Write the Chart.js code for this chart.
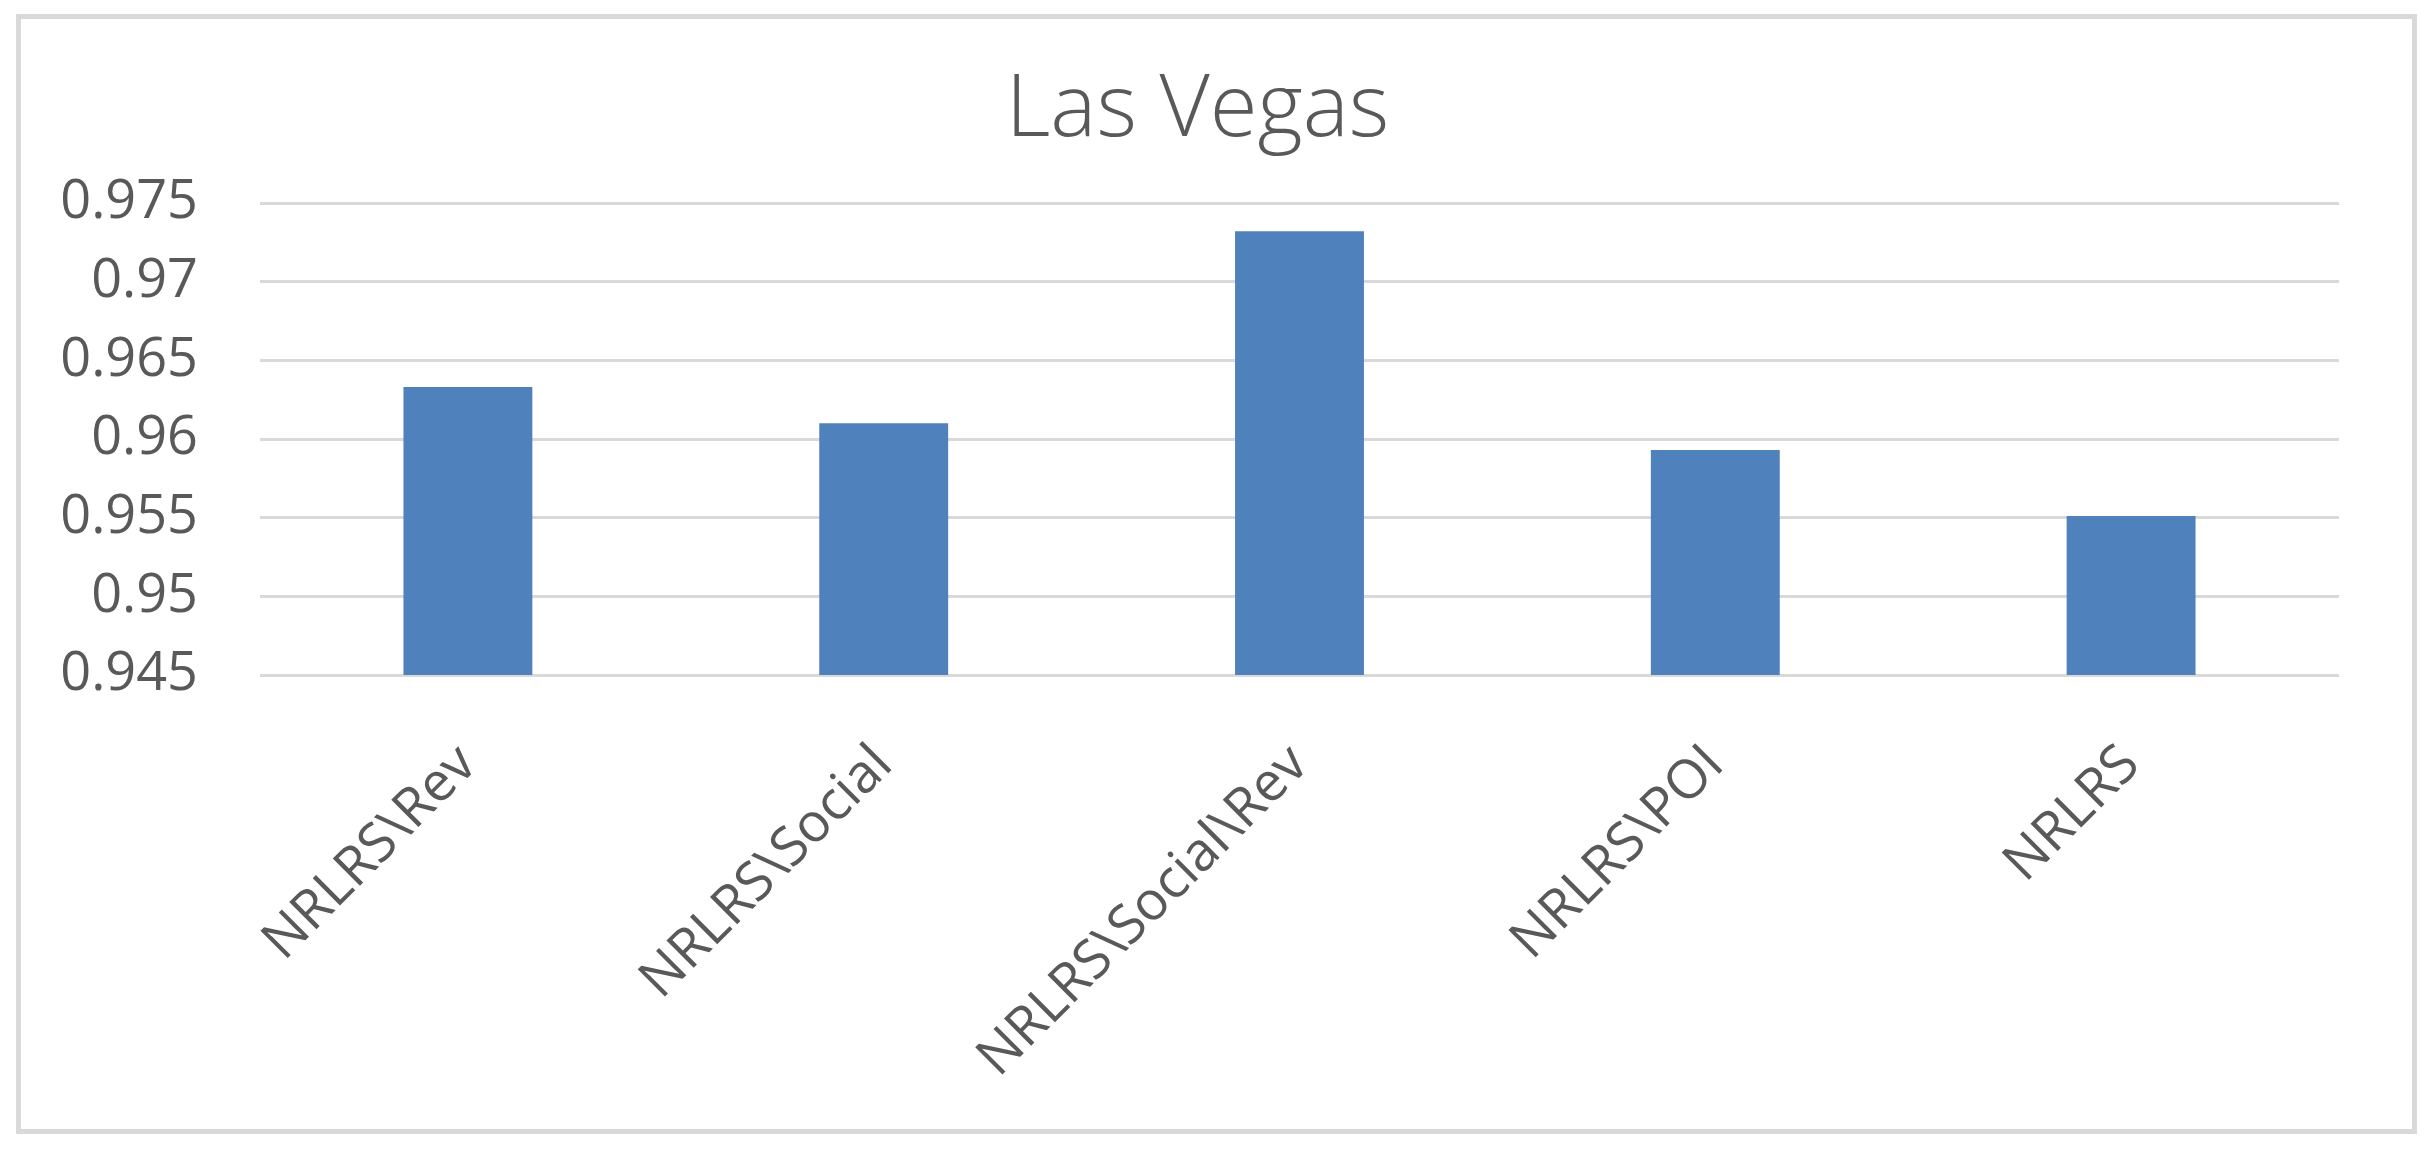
<!DOCTYPE html>
<html>
<head>
<meta charset="utf-8">
<script src="https://cdn.jsdelivr.net/npm/chart.js@4.4.1/dist/chart.umd.min.js"></script>
<style>
  html, body { margin: 0; padding: 0; background: #ffffff; }
  #wrap { position: absolute; left: 0; top: 0; width: 2433px; height: 1151px; }
  #frame { position: absolute; left: 16px; top: 14px; width: 2391px; height: 1110px;
           border: 5px solid #d9d9d9; pointer-events: none; }
  canvas { position: absolute; left: 0; top: 0; }
</style>
</head>
<body>
<div id="wrap">
  <canvas id="c" width="2433" height="1151"></canvas>
  <div id="frame"></div>
</div>
<script>
const chartTitle = "Las Vegas";
const categories = ["NRLRS\\Rev", "NRLRS\\Social", "NRLRS\\Social\\Rev", "NRLRS\\POI", "NRLRS"];
const values = [0.9633, 0.9610, 0.9732, 0.9593, 0.9551];
const yTickValues = [0.945, 0.95, 0.955, 0.96, 0.965, 0.97, 0.975];
const yTickLabels = ["0.945", "0.95", "0.955", "0.96", "0.965", "0.97", "0.975"];

const textColor = "#595959";
const gridColor = "#d9d9d9";
const barColor = "#4f81bd";
const fontFamily = "'Open Sans', 'DejaVu Sans', sans-serif";

new Chart(document.getElementById("c"), {
  type: "bar",
  data: {
    labels: categories,
    datasets: [{
      data: values,
      backgroundColor: barColor,
      borderWidth: 0,
      categoryPercentage: 1.0,
      barPercentage: 0.31
    }]
  },
  options: {
    responsive: false,
    animation: false,
    devicePixelRatio: 1,
    layout: { padding: { left: 56, right: 94, top: 0, bottom: 0 } },
    plugins: {
      legend: { display: false },
      tooltip: { enabled: false },
      title: {
        display: true,
        text: chartTitle,
        color: textColor,
        font: { family: fontFamily, size: 87, weight: 300, lineHeight: 1.2 },
        padding: { top: 59, bottom: 39.6 }
      }
    },
    scales: {
      x: {
        grid: { display: false, drawTicks: false },
        border: { display: false },
        ticks: {
          color: textColor,
          font: { family: fontFamily, size: 54 },
          maxRotation: 45,
          minRotation: 45,
          autoSkip: false,
          padding: 58
        },
        afterFit: (s) => { s.height = 476; }
      },
      y: {
        min: 0.945,
        max: 0.975,
        grid: { color: gridColor, lineWidth: 3, drawTicks: false },
        border: { display: false },
        afterBuildTicks: (s) => { s.ticks = yTickValues.map(v => ({ value: v })); },
        ticks: {
          color: textColor,
          font: { family: fontFamily, size: 54 },
          padding: 62,
          callback: (v) => {
            const i = yTickValues.findIndex(t => Math.abs(t - v) < 1e-9);
            return i >= 0 ? yTickLabels[i] : "";
          }
        },
        afterFit: (s) => { s.width = 204; }
      }
    }
  }
});
</script>
</body>
</html>
